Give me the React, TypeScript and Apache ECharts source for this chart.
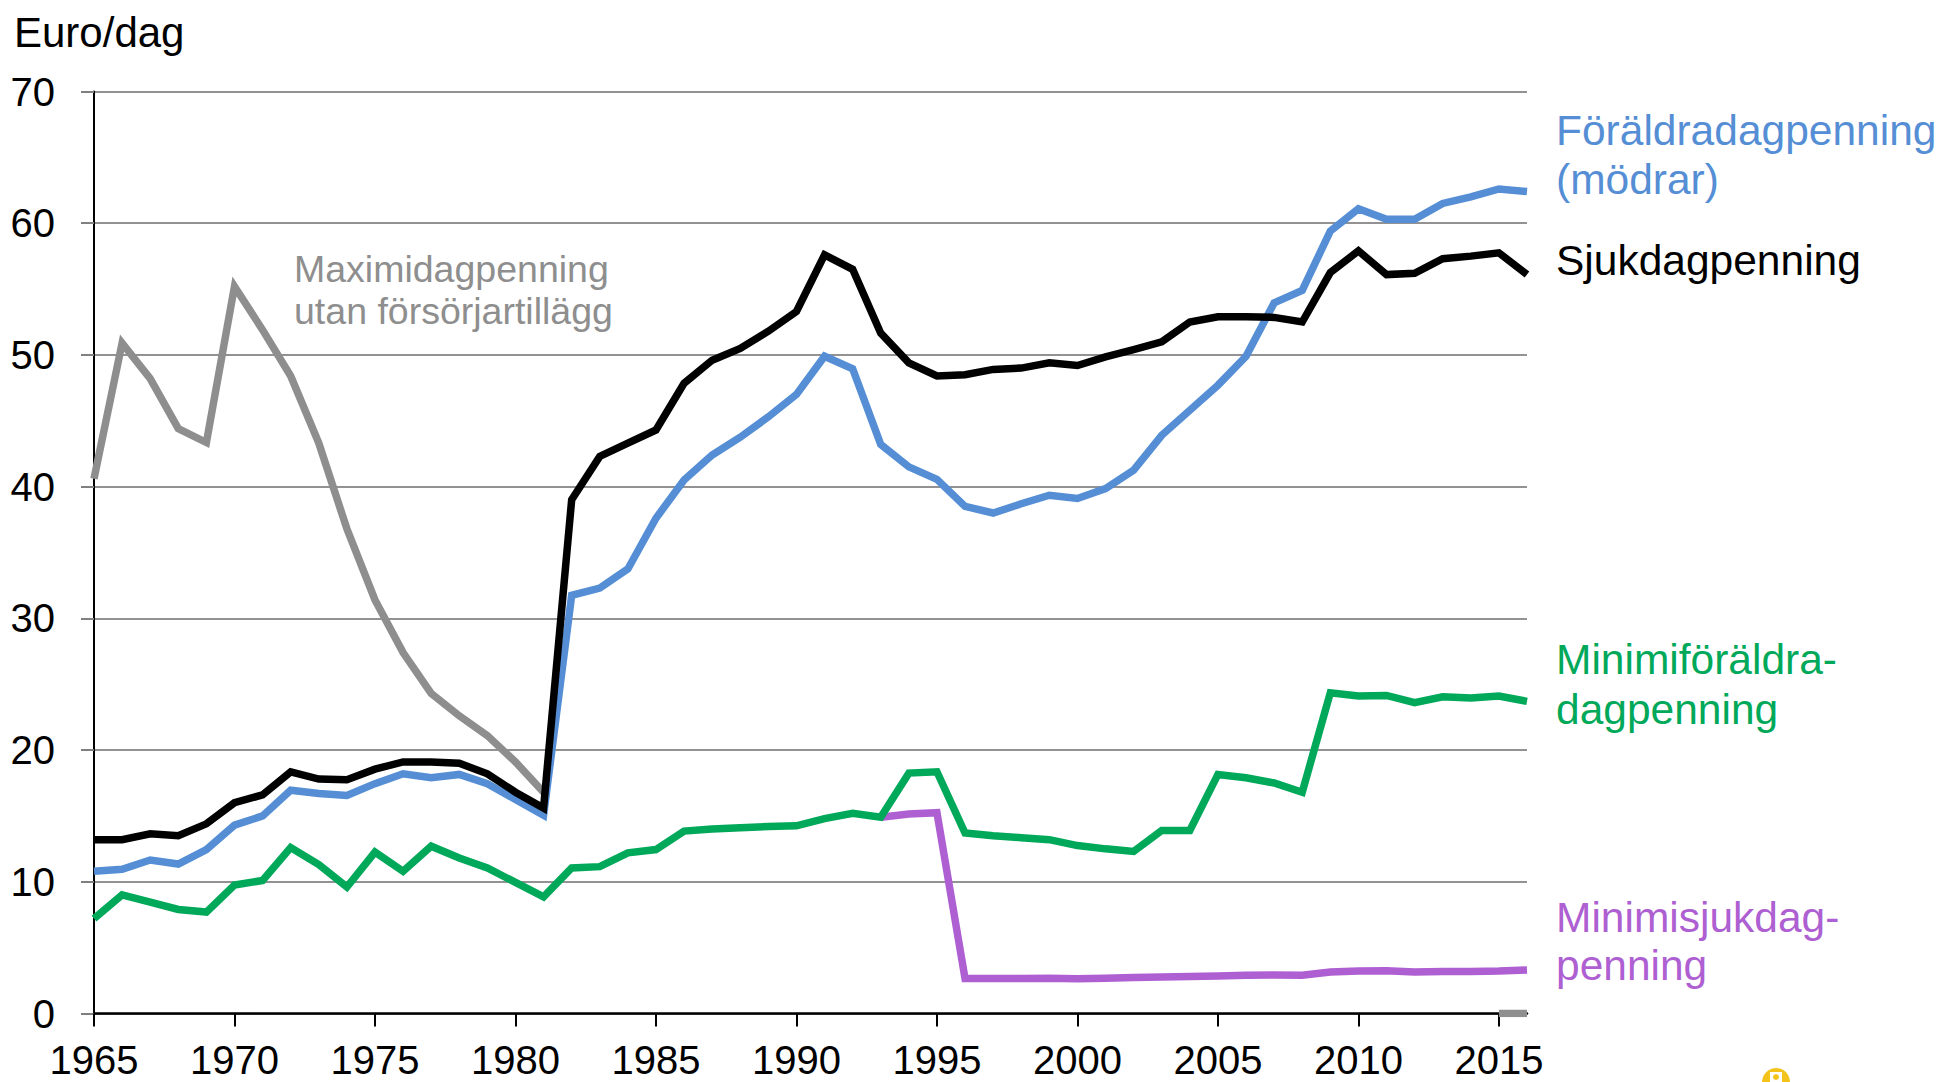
import React, { useEffect, useRef } from "react";
import * as echarts from "echarts";

const FONT = "'Liberation Sans', Arial, sans-serif";

const years: number[] = [
  1965, 1966, 1967, 1968, 1969, 1970, 1971, 1972, 1973, 1974, 1975, 1976, 1977,
  1978, 1979, 1980, 1981, 1982, 1983, 1984, 1985, 1986, 1987, 1988, 1989, 1990,
  1991, 1992, 1993, 1994, 1995, 1996, 1997, 1998, 1999, 2000, 2001, 2002, 2003,
  2004, 2005, 2006, 2007, 2008, 2009, 2010, 2011, 2012, 2013, 2014, 2015, 2016,
];

// Sjukdagpenning 1965-2016
const sjuk: number[] = [
  13.2, 13.2, 13.65, 13.5, 14.4, 16.0, 16.6, 18.35, 17.8, 17.75, 18.55, 19.1,
  19.1, 19.0, 18.2, 16.8, 15.6, 39.0, 42.3, 43.3, 44.3, 47.85, 49.6, 50.5, 51.8,
  53.3, 57.6, 56.5, 51.65, 49.4, 48.4, 48.5, 48.9, 49.0, 49.4, 49.2, 49.85, 50.4,
  51.0, 52.5, 52.9, 52.9, 52.85, 52.5, 56.25, 57.9, 56.1, 56.2, 57.3, 57.5,
  57.75, 56.1,
];

// Föräldradagpenning (mödrar) 1965-2016
const foraldra: number[] = [
  10.8, 10.95, 11.65, 11.35, 12.45, 14.3, 15.0, 16.95, 16.7, 16.55, 17.45, 18.2,
  17.9, 18.15, 17.45, 16.25, 15.05, 31.75, 32.3, 33.75, 37.6, 40.5, 42.4, 43.75,
  45.3, 47.0, 49.9, 48.95, 43.2, 41.5, 40.55, 38.5, 38.0, 38.7, 39.35, 39.1,
  39.85, 41.25, 43.9, 45.8, 47.7, 49.9, 53.95, 54.9, 59.4, 61.1, 60.3, 60.3,
  61.5, 62.0, 62.6, 62.4,
];

// Minimiföräldradagpenning 1965-2016
const minForaldra: number[] = [
  7.2, 9.0, 8.45, 7.9, 7.7, 9.75, 10.1, 12.6, 11.3, 9.6, 12.25, 10.8, 12.7, 11.8,
  11.05, 9.95, 8.85, 11.05, 11.15, 12.2, 12.45, 13.85, 14.0, 14.1, 14.2, 14.25,
  14.8, 15.2, 14.9, 18.25, 18.35, 13.7, 13.5, 13.35, 13.2, 12.75, 12.5, 12.3,
  13.9, 13.9, 18.15, 17.9, 17.5, 16.8, 24.35, 24.1, 24.15, 23.6, 24.05, 23.95,
  24.1, 23.7,
];

// Minimisjukdagpenning, from 1993 to 2016
const minSjukStart = 1993;
const minSjuk: number[] = [
  14.9, 15.15, 15.25, 2.65, 2.65, 2.66, 2.68, 2.64, 2.67, 2.73, 2.77, 2.8, 2.85,
  2.9, 2.93, 2.9, 3.15, 3.22, 3.24, 3.15, 3.18, 3.19, 3.22, 3.3,
];

// Maximidagpenning utan försörjartillägg, 1965-1981
const maxiStart = 1965;
const maxi: number[] = [
  40.6, 50.9, 48.2, 44.4, 43.35, 55.2, 51.9, 48.4, 43.3, 36.8, 31.4, 27.4, 24.3,
  22.6, 21.1, 19.1, 16.8,
];
// short grey stub at the end (2015-2016)
const maxiTailStart = 2015;
const maxiTail: number[] = [0, 0];

const yTicks = { min: 0, max: 70, interval: 10 };

function place(start: number, vals: number[]): (number | null)[] {
  return years.map((yr) => {
    const i = yr - start;
    return i >= 0 && i < vals.length ? vals[i] : null;
  });
}

export default function App() {
  const ref = useRef<HTMLDivElement>(null);

  useEffect(() => {
    document.body.style.margin = "0";
    if (!ref.current) return;
    const chart = echarts.init(ref.current, undefined, { renderer: "svg" });

    const tail = place(maxiTailStart, maxiTail);
    const grayData = place(maxiStart, maxi).map((v, i) => (v !== null ? v : tail[i]));

    const lineSeries = (name: string, data: (number | null)[], color: string) => ({
      name,
      type: "line",
      data,
      symbol: "none",
      connectNulls: false,
      lineStyle: { color, width: 7.5, join: "miter" },
      itemStyle: { color },
      emphasis: { disabled: true },
    });

    const txt = (text: string, x: number, y: number, fill: string, size: number) => ({
      type: "text",
      x,
      y,
      style: {
        text,
        fill,
        fontSize: size,
        fontFamily: FONT,
        textAlign: "left",
        textVerticalAlign: "middle",
      },
    });

    chart.setOption({
      animation: false,
      backgroundColor: "#ffffff",
      grid: {
        left: 94,
        right: 412,
        top: 91.5,
        bottom: 68.5,
        containLabel: false,
      },
      xAxis: {
        type: "category",
        data: years.map(String),
        boundaryGap: false,
        axisLine: { lineStyle: { color: "#000", width: 2.5 } },
        axisTick: {
          interval: 4,
          length: 13,
          lineStyle: { color: "#000", width: 2 },
        },
        axisLabel: {
          interval: 4,
          fontSize: 40,
          color: "#000",
          margin: 26,
          fontFamily: FONT,
        },
        splitLine: { show: false },
      },
      yAxis: {
        type: "value",
        min: yTicks.min,
        max: yTicks.max,
        interval: yTicks.interval,
        axisLine: { show: true, lineStyle: { color: "#000", width: 2 } },
        axisTick: {
          show: true,
          length: 13,
          lineStyle: { color: "#808080", width: 2 },
        },
        axisLabel: {
          fontSize: 40,
          color: "#000",
          margin: 39,
          fontFamily: FONT,
        },
        splitLine: { lineStyle: { color: "#6e6e6e", width: 1.5 } },
      },
      series: [
        lineSeries("Maximidagpenning utan försörjartillägg", grayData, "#8e8e8e"),
        lineSeries("Minimisjukdagpenning", place(minSjukStart, minSjuk), "#ae5fd2"),
        lineSeries("Minimiföräldradagpenning", minForaldra, "#00a85a"),
        lineSeries("Föräldradagpenning (mödrar)", foraldra, "#558ed5"),
        lineSeries("Sjukdagpenning", sjuk, "#000000"),
      ],
      graphic: [
        txt("Euro/dag", 14, 32, "#000", 42),
        txt("Maximidagpenning", 294, 269, "#8e8e8e", 37.5),
        txt("utan försörjartillägg", 294, 311, "#8e8e8e", 37.5),
        txt("Föräldradagpenning", 1556, 130, "#558ed5", 42.5),
        txt("(mödrar)", 1556, 179, "#558ed5", 42.5),
        txt("Sjukdagpenning", 1556, 260, "#000", 42.5),
        txt("Minimiföräldra-", 1556, 659, "#00a85a", 42.5),
        txt("dagpenning", 1556, 709, "#00a85a", 42.5),
        txt("Minimisjukdag-", 1556, 917, "#ae5fd2", 42.5),
        txt("penning", 1556, 965, "#ae5fd2", 42.5),
        {
          type: "circle",
          shape: { cx: 1776, cy: 1082, r: 14 },
          style: { fill: "#f3c21b" },
        },
        {
          type: "rect",
          shape: { x: 1770, y: 1072, width: 12, height: 10 },
          style: { fill: "#ffffff" },
        },
        {
          type: "circle",
          shape: { cx: 1776, cy: 1077, r: 3 },
          style: { fill: "#f3c21b" },
        },
      ],
    });

    return () => chart.dispose();
  }, []);

  return <div ref={ref} style={{ width: 1939, height: 1082 }} />;
}
